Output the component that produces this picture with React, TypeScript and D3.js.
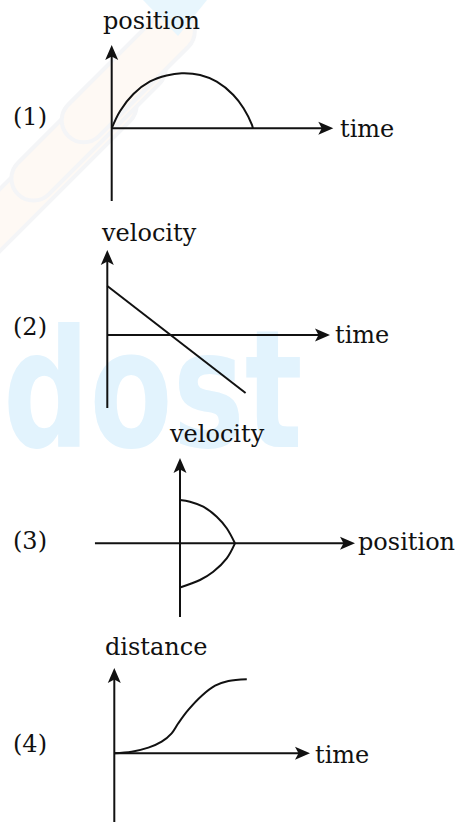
import { useEffect, useRef } from 'react';
import * as d3 from 'd3';

// ==========================================
// DATA
// ==========================================
const panelTags = ['(1)', '(2)', '(3)', '(4)'];
const yLabels = ['position', 'velocity', 'velocity', 'distance'];
const xLabels = ['time', 'time', 'position', 'time'];

// axis extents in data units (arrow tips sit at 10)
const xExtents: [number, number][] = [[0, 10], [0, 10], [-4.86, 10], [0, 10]];
const yExtents: [number, number][] = [[-8.73, 10], [-8.59, 10], [-8.64, 10], [-8.2, 10]];

// (1) position vs time
const p1Time = [0, 0.38, 0.98, 1.73, 2.48, 3.16, 3.99, 4.74, 5.49, 5.95, 6.33, 6.37];
const p1Position = [0, 2.08, 4.12, 5.62, 6.34, 6.6, 6.4, 5.59, 4.0, 2.4, 0.4, 0];

// (2) velocity vs time
const p2Time = [0, 6.21];
const p2Velocity = [5.76, -6.82];

// (3) velocity vs position
const p3UpperPos = [0, 0.57, 1.33, 2.1, 2.67, 3.14];
const p3UpperVel = [5.08, 4.88, 4.29, 3.12, 1.76, 0];
const p3LowerPos = [0, 1.14, 1.9, 2.67, 3.14];
const p3LowerVel = [-5.18, -4.3, -3.33, -1.76, 0];

// (4) distance vs time
const p4Time = [0, 0.89, 1.74, 2.42, 2.93, 3.27, 3.78, 4.47, 5.15, 5.83, 6.77];
const p4Distance = [0, 0.19, 0.66, 1.36, 2.34, 3.52, 5.08, 6.75, 7.93, 8.48, 8.68];

const zip = (a: number[], b: number[]): [number, number][] => a.map((v, i) => [v, b[i]]);

const smooth = d3.curveCatmullRom.alpha(0.5);

const panelCurves: { pts: [number, number][]; curve: d3.CurveFactory }[][] = [
    [{ pts: zip(p1Time, p1Position), curve: smooth }],
    [{ pts: zip(p2Time, p2Velocity), curve: d3.curveLinear }],
    [
        { pts: zip(p3UpperPos, p3UpperVel), curve: smooth },
        { pts: zip(p3LowerPos, p3LowerVel), curve: smooth },
    ],
    [{ pts: zip(p4Time, p4Distance), curve: smooth }],
];

// ==========================================
// LAYOUT (pixels)
// ==========================================
const WIDTH = 463;
const HEIGHT = 822;

const layout = [
    { ox: 111.7, oy: 128.3, xTip: 333.3, yTip: 45, yLab: [103, 29], xLab: [340, 137], tagY: 125 },
    { ox: 107.3, oy: 335, xTip: 330, yTip: 250, yLab: [102, 240.5], xLab: [335, 343.3], tagY: 335 },
    { ox: 180, oy: 543.3, xTip: 355, yTip: 458, yLab: [170, 441.5], xLab: [358, 550], tagY: 549 },
    { ox: 114.3, oy: 753.3, xTip: 310, yTip: 668, yLab: [105, 655], xLab: [315, 762.5], tagY: 751.5 },
];

const FONT = '"DejaVu Serif", "Liberation Serif", serif';
const INK = '#111';

const App = () => {
    const svgRef = useRef<SVGSVGElement>(null);

    useEffect(() => {
        const svg = d3.select(svgRef.current);
        svg.selectAll('*').remove();

        svg.append('rect')
            .attr('width', WIDTH)
            .attr('height', HEIGHT)
            .attr('fill', '#fff');

        // ==========================================
        // WATERMARK (faint logo behind the plots)
        // ==========================================
        const wm = svg.append('g');

        [0, 1, 2].forEach((i) => {
            wm.append('rect')
                .attr('x', -60 + i * 40)
                .attr('y', -22)
                .attr('width', 230 - i * 30)
                .attr('height', 44)
                .attr('rx', 22)
                .attr('fill', '#fef9f4')
                .attr('stroke', '#f4f5f7')
                .attr('stroke-width', 4)
                .attr('transform', `translate(${10 + i * 22}, ${210 - i * 30}) rotate(-45)`);
        });

        wm.append('path')
            .attr('d', 'M143,0 L207,0 L178,36 Z')
            .attr('fill', '#e8f6fd');

        wm.append('text')
            .attr('transform', 'translate(3,447) scale(1,1.36)')
            .style('font-family', '"DejaVu Sans", sans-serif')
            .style('font-weight', 700)
            .style('font-size', '121px')
            .attr('fill', '#e2f3fd')
            .text('dost');

        // ==========================================
        // PANELS
        // ==========================================
        const arrow = 'M0,0 L-15,-6.5 L-11.5,0 L-15,6.5 Z';

        layout.forEach((p, i) => {
            const x = d3.scaleLinear().domain([0, 10]).range([p.ox, p.xTip]);
            const y = d3.scaleLinear().domain([0, 10]).range([p.oy, p.yTip]);

            const g = svg.append('g');

            // axes
            const [x0, x1] = xExtents[i];
            const [y0, y1] = yExtents[i];

            g.append('line')
                .attr('x1', x(x0)).attr('x2', x(x1) - 9)
                .attr('y1', y(0)).attr('y2', y(0))
                .attr('stroke', INK).attr('stroke-width', 2);

            g.append('line')
                .attr('x1', x(0)).attr('x2', x(0))
                .attr('y1', y(y0)).attr('y2', y(y1) + 9)
                .attr('stroke', INK).attr('stroke-width', 2);

            g.append('path')
                .attr('d', arrow)
                .attr('fill', INK)
                .attr('transform', `translate(${x(x1)},${y(0)})`);

            g.append('path')
                .attr('d', arrow)
                .attr('fill', INK)
                .attr('transform', `translate(${x(0)},${y(y1)}) rotate(-90)`);

            // curves
            panelCurves[i].forEach((c) => {
                const line = d3.line<[number, number]>()
                    .x(d => x(d[0]))
                    .y(d => y(d[1]))
                    .curve(c.curve);

                g.append('path')
                    .datum(c.pts)
                    .attr('fill', 'none')
                    .attr('stroke', INK)
                    .attr('stroke-width', 2)
                    .attr('stroke-linejoin', 'round')
                    .attr('d', line);
            });

            // labels
            const txt = (tx: number, ty: number, s: string) =>
                g.append('text')
                    .attr('x', tx)
                    .attr('y', ty)
                    .style('font-family', FONT)
                    .style('font-size', '24px')
                    .attr('fill', INK)
                    .text(s);

            txt(p.yLab[0], p.yLab[1], yLabels[i]);
            txt(p.xLab[0], p.xLab[1], xLabels[i]);
            txt(13, p.tagY, panelTags[i]);
        });

    }, []);

    return (
        <svg
            ref={svgRef}
            width={WIDTH}
            height={HEIGHT}
            style={{ position: 'absolute', left: 0, top: 0, display: 'block' }}
        />
    );
};

export default App;
